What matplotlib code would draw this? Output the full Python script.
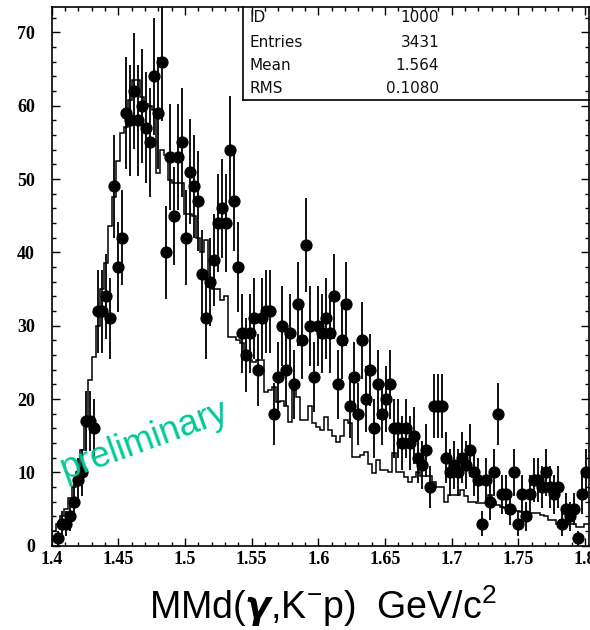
import matplotlib
matplotlib.use("Agg")
import matplotlib.pyplot as plt
import numpy as np
from matplotlib.ticker import MultipleLocator

# binning of the histogram (GeV/c^2)
bin_lo = 1.4
bin_w = 0.003

# measured counts per bin (points with sqrt(N) errors)
counts = [0, 1, 3, 3, 4, 6, 9, 10, 17, 17,
          16, 32, 32, 34, 31, 49, 38, 42, 59, 58,
          62, 58, 60, 57, 55, 64, 59, 66, 40, 53,
          45, 53, 55, 42, 51, 49, 47, 37, 31, 36,
          39, 44, 46, 44, 54, 47, 38, 29, 26, 29,
          31, 24, 31, 32, 32, 18, 23, 30, 24, 29,
          22, 33, 28, 41, 30, 23, 30, 29, 31, 29,
          34, 22, 28, 33, 19, 23, 18, 28, 20, 24,
          16, 22, 18, 20, 22, 16, 16, 14, 16, 14,
          15, 12, 11, 13, 8, 19, 19, 19, 12, 10,
          11, 10, 12, 11, 13, 10, 9, 3, 9, 6,
          10, 18, 7, 7, 5, 10, 3, 7, 4, 7,
          9, 9, 8, 10, 8, 7, 8, 3, 5, 4,
          5, 1, 7, 10]

# simulated spectrum (step histogram)
sim = [2, 3, 4, 5, 6.5, 8, 10, 13, 17.1, 22.6,
       25.8, 30, 35, 38.5, 43.6, 47.6, 52.4, 56.3, 57.1, 60.8,
       63.5, 63.5, 61.2, 60.3, 60, 59.4, 50.8, 54, 53.3, 49.9,
       49.5, 49.5, 49.4, 45.3, 45.3, 45, 42, 40, 41.7, 35.3,
       35, 35, 33.5, 34, 28.5, 28.5, 28, 27.6, 25.8, 25.3,
       25.1, 25.3, 25.3, 21, 21.2, 21.7, 19.6, 19.8, 19, 16.9,
       21.2, 20.3, 17.1, 17.1, 19, 16.8, 16.2, 15.8, 17.6, 15.8,
       14.9, 14.2, 14.9, 17.1, 16.7, 12.1, 12.1, 12.4, 12.8, 11.2,
       9.9, 11.7, 10.3, 10.3, 10.1, 12.6, 10.1, 10.1, 9.4, 8.7,
       9.4, 10.1, 9.5, 9.5, 9.5, 8.7, 8.0, 8.0, 6, 6.9,
       6.9, 6.9, 7.6, 6.8, 6, 6, 5.8, 5.8, 5.8, 6.9,
       6, 5.5, 5.3, 5.1, 4.9, 4.9, 4.7, 4.6, 4.6, 4.4,
       4.4, 4.4, 4.2, 4.0, 3.5, 3.5, 3.0, 3.5, 3.5, 3,
       3, 2.6, 2.6, 3, 3]

stat_names = ["ID", "Entries", "Mean", "RMS"]
stat_values = ["1000", "3431", "1.564", "0.1080"]

x_ticks = [1.4, 1.45, 1.5, 1.55, 1.6, 1.65, 1.7, 1.75, 1.8]
x_tick_labels = ["1.4", "1.45", "1.5", "1.55", "1.6", "1.65", "1.7", "1.75", "1.8"]
y_ticks = [0, 10, 20, 30, 40, 50, 60, 70]

plt.rcParams["mathtext.fontset"] = "custom"
plt.rcParams["mathtext.rm"] = "Liberation Sans"
plt.rcParams["mathtext.it"] = "Liberation Sans:italic"
plt.rcParams["mathtext.bf"] = "Liberation Sans:bold"

fig = plt.figure(figsize=(5.9, 6.3), dpi=100)
ax = fig.add_axes([0.0876, 0.1338, 0.9107, 0.8543])

c = np.array(counts, dtype=float)
xc = bin_lo + bin_w * (np.arange(len(c)) + 0.5)
m = c > 0
edges = bin_lo + bin_w * np.arange(len(sim) + 1)

ax.stairs(sim, edges, color="black", linewidth=1.1)
ax.errorbar(xc[m], c[m], yerr=np.sqrt(c[m]), fmt="o", color="black",
            ms=7.8, elinewidth=1.3, capsize=0)

ax.set_xlim(1.4, 1.8031)
ax.set_ylim(0, 73.4)
ax.set_xticks(x_ticks)
ax.set_xticklabels(x_tick_labels)
ax.set_yticks(y_ticks)
ax.xaxis.set_minor_locator(MultipleLocator(0.01))
ax.yaxis.set_minor_locator(MultipleLocator(2))
ax.tick_params(which="both", direction="in", top=True, right=True, width=1)
ax.tick_params(which="major", length=6)
ax.tick_params(which="minor", length=3)
ax.tick_params(axis="x", pad=4)
ax.tick_params(axis="y", pad=12)
for lab in ax.get_xticklabels() + ax.get_yticklabels():
    lab.set_family("Liberation Serif")
    lab.set_fontweight("bold")
    lab.set_fontsize(13)
for sp in ax.spines.values():
    sp.set_linewidth(1.2)

# stats box
bx, by = 0.356, 0.828
ax.plot([bx, bx], [by, 1.0], transform=ax.transAxes, color="black", lw=1.2, clip_on=False)
ax.plot([bx, 1.0], [by, by], transform=ax.transAxes, color="black", lw=1.2, clip_on=False)
rows_y = [0.9805, 0.9356, 0.8931, 0.8504]
for name, val, yy in zip(stat_names, stat_values, rows_y):
    ax.text(0.369, yy, name, transform=ax.transAxes, ha="left", va="center",
            fontsize=11, family="DejaVu Sans", color="#111111")
    ax.text(0.721, yy, val, transform=ax.transAxes, ha="right", va="center",
            fontsize=11, family="DejaVu Sans", color="#111111")

ax.text(1.410, 9.0, "preliminary", rotation=20, rotation_mode="anchor",
        ha="left", va="baseline", fontsize=26, family="Liberation Sans",
        color="#00c896")

fig.text(323 / 590, 1 - 619 / 630,
         r"MMd($\boldsymbol{\gamma}$,K$^{-}$p)  GeV/c$^{2}$",
         ha="center", va="baseline", fontsize=27, family="Liberation Sans")

plt.savefig("out.png", dpi=100)
plt.close()
